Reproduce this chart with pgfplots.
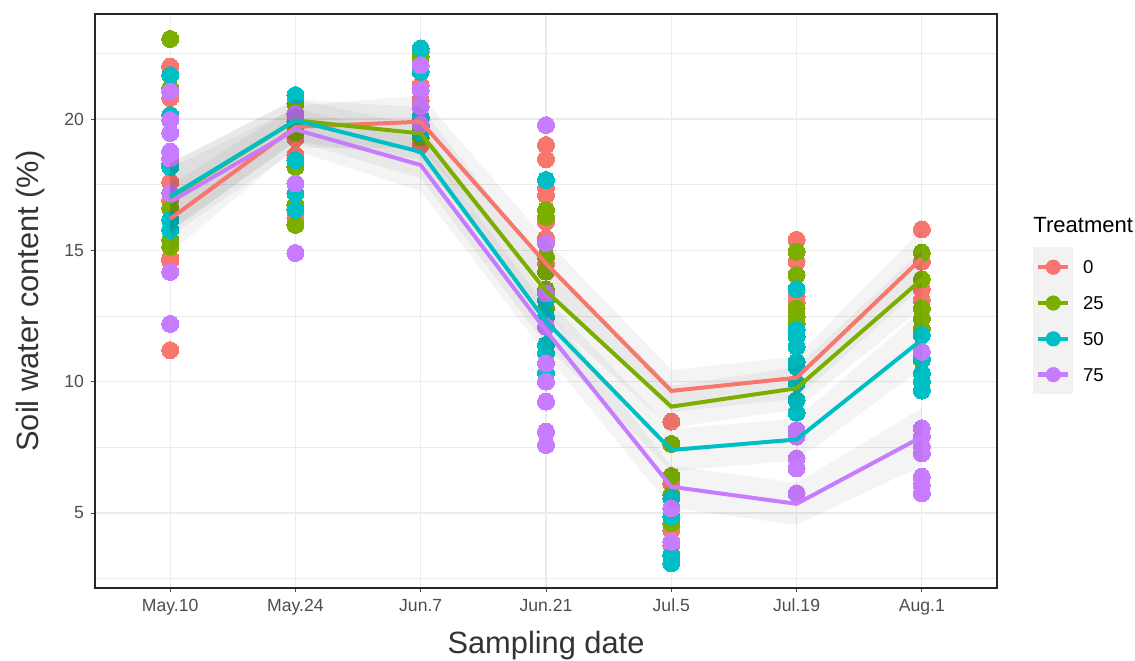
\documentclass[border=0pt]{standalone}
\usepackage{pgfplots}
\pgfplotsset{compat=1.18}
\usepackage{fontspec}
\setmainfont{Liberation Sans}
\definecolor{c0}{HTML}{F8766D}
\definecolor{c25}{HTML}{7CAE00}
\definecolor{c50}{HTML}{00BFC4}
\definecolor{c75}{HTML}{C77CFF}
\definecolor{gridc}{HTML}{EBEBEB}
\definecolor{tickc}{HTML}{4D4D4D}
\definecolor{keybg}{HTML}{F2F2F2}
\begin{document}
\begin{tikzpicture}
\useasboundingbox (0,0) rectangle (567.5pt,330pt);
\begin{axis}[
  at={(47.5pt,36pt)}, anchor=south west,
  scale only axis, width=451pt, height=287pt,
  xmin=-0.6, xmax=6.6, ymin=2.145, ymax=24.0,
  xtick={0,...,6},
  xticklabels={May.10,May.24,Jun.7,Jun.21,Jul.5,Jul.19,Aug.1},
  ytick={5,10,15,20},
  minor ytick={2.5,7.5,12.5,17.5,22.5},
  grid=both,
  major grid style={gridc, line width=0.6pt},
  minor grid style={gridc, line width=0.3pt},
  tick align=outside, tick pos=left,
  major tick length=2pt, minor tick length=0pt,
  tick style={tickc, line width=0.5pt},
  axis line style={black!85, line width=0.6pt},
  /pgf/number format/assume math mode=true,
  tick label style={font=\fontsize{8.8}{10}\selectfont, color=tickc},
  xlabel={Sampling date},
  ylabel={Soil water content (\%)},
  x label style={font=\fontsize{15.4}{18}\selectfont, color=black!80, at={(axis description cs:0.5,-0.101)}, anchor=center},
  y label style={font=\fontsize{15.4}{18}\selectfont, color=black!80, at={(axis description cs:-0.072,0.5)}, anchor=center},
  clip mode=individual,
  legend style={at={(axis description cs:1.04,0.594)}, anchor=north west, draw=none, fill=none,
    font=\fontsize{9.3}{11}\selectfont, row sep=-1.9pt, column sep=5pt, inner sep=0pt,
    nodes={inner sep=0pt, text depth=0pt}, cells={anchor=west}},
  legend image code/.code={
    \fill[keybg] (0pt,-8.9pt) rectangle (17.8pt,8.9pt);
    \draw[#1, line width=2.2pt] (1.5pt,0pt) -- (16.3pt,0pt);
    \fill[#1, draw=none] (8.9pt,0pt) circle[radius=3.8pt];
  },
]
% ---------- points ----------
\pgfplotsset{pts/.style={only marks, mark=*, mark size=4.25pt, color=#1, mark options={draw=#1, fill=#1, line width=0pt}, forget plot}}
\addplot[pts=c0] coordinates {
 (0,22.0) (0,20.8) (0,17.6) (0,16.9) (0,14.7) (0,14.6) (0,11.2)
 (1,20.09) (1,19.26) (1,18.63) (1,18.5) (1,16.23)
 (2,21.29) (2,20.72) (2,20.0) (2,19.0)
 (3,19.01) (3,18.47) (3,17.36) (3,17.1) (3,16.09) (3,15.46) (3,14.5)
 (4,8.48) (4,6.13) (4,4.35) (4,3.78)
 (5,15.4) (5,14.57) (5,13.24) (5,13.0) (5,12.2)
 (6,15.8) (6,14.57) (6,13.52) (6,13.11)
};
\addplot[pts=c25] coordinates {
 (0,23.05) (0,21.17) (0,18.3) (0,16.6) (0,15.4) (0,15.14)
 (1,20.6) (1,19.5) (1,18.18) (1,16.73) (1,15.97)
 (2,22.56) (2,22.37) (2,19.71) (2,19.3)
 (3,16.54) (3,16.28) (3,14.76) (3,14.19) (3,13.5) (3,12.8)
 (4,7.63) (4,6.41) (4,5.69) (4,4.61)
 (5,14.95) (5,14.06) (5,12.79) (5,12.47) (5,12.2)
 (6,14.91) (6,13.9) (6,12.79) (6,12.41) (6,12.03) (6,10.83)
};
\addplot[pts=c50] coordinates {
 (0,21.67) (0,20.15) (0,18.18) (0,16.16) (0,15.78)
 (1,20.91) (1,19.9) (1,18.44) (1,17.17) (1,16.54)
 (2,22.69) (2,21.8) (2,20.09) (2,19.47)
 (3,17.68) (3,13.1) (3,12.47) (3,11.4) (3,11.08) (3,10.32)
 (4,5.56) (4,4.86) (4,3.4) (4,3.09)
 (5,13.52) (5,11.97) (5,11.71) (5,11.33) (5,10.76) (5,10.57) (5,9.94) (5,9.3) (5,8.82)
 (6,11.78) (6,10.89) (6,10.32) (6,10.0) (6,9.66)
};
\addplot[pts=c75] coordinates {
 (0,21.04) (0,19.96) (0,19.47) (0,18.76) (0,18.5) (0,17.18) (0,14.18) (0,12.2)
 (1,20.2) (1,17.55) (1,14.9)
 (2,22.05) (2,21.1) (2,20.47) (2,19.8)
 (3,19.77) (3,15.27) (3,13.36) (3,12.09) (3,10.7) (3,10.0) (3,9.24) (3,8.1) (3,7.59)
 (4,5.18) (4,3.91)
 (5,8.16) (5,7.91) (5,7.08) (5,6.7) (5,5.75)
 (6,11.14) (6,8.23) (6,7.91) (6,7.53) (6,7.27) (6,6.38) (6,6.07) (6,5.75)
};
% ---------- ribbons (mean +/- se) ----------
\pgfplotsset{rib/.style={draw=none, fill=black, fill opacity=0.045, forget plot}}
\addplot[rib] coordinates {(0,17.5) (1,20.5) (2,20.9) (3,15.4) (4,10.45) (5,10.95) (6,15.8)
 (6,13.6) (5,9.35) (4,8.85) (3,13.6) (2,18.9) (1,18.9) (0,14.9)};
\addplot[rib] coordinates {(0,18.3) (1,20.75) (2,20.45) (3,14.35) (4,9.85) (5,10.55) (6,15.0)
 (6,12.8) (5,8.95) (4,8.25) (3,12.55) (2,18.45) (1,19.15) (0,15.7)};
\addplot[rib] coordinates {(0,18.35) (1,20.75) (2,19.75) (3,13.2) (4,8.2) (5,8.6) (6,12.7)
 (6,10.5) (5,7.0) (4,6.6) (3,11.4) (2,17.75) (1,19.15) (0,15.75)};
\addplot[rib] coordinates {(0,18.15) (1,20.4) (2,19.25) (3,12.85) (4,6.8) (5,6.15) (6,9.0)
 (6,6.8) (5,4.55) (4,5.2) (3,11.05) (2,17.25) (1,18.8) (0,15.55)};
% ---------- mean lines ----------
\addplot[c0, line width=2pt] coordinates {(0,16.2) (1,19.7) (2,19.9) (3,14.5) (4,9.65) (5,10.15) (6,14.7)};
\addlegendentry{0}
\addplot[c25, line width=2pt] coordinates {(0,17.0) (1,19.95) (2,19.45) (3,13.45) (4,9.05) (5,9.75) (6,13.9)};
\addlegendentry{25}
\addplot[c50, line width=2pt] coordinates {(0,17.05) (1,19.95) (2,18.75) (3,12.3) (4,7.4) (5,7.8) (6,11.6)};
\addlegendentry{50}
\addplot[c75, line width=2pt] coordinates {(0,16.85) (1,19.6) (2,18.25) (3,11.95) (4,6.0) (5,5.35) (6,7.9)};
\addlegendentry{75}
\node[anchor=west, inner sep=0pt, font=\fontsize{11}{13}\selectfont] at (axis description cs:1.04,0.632) {Treatment};
\end{axis}
\end{tikzpicture}
\end{document}
